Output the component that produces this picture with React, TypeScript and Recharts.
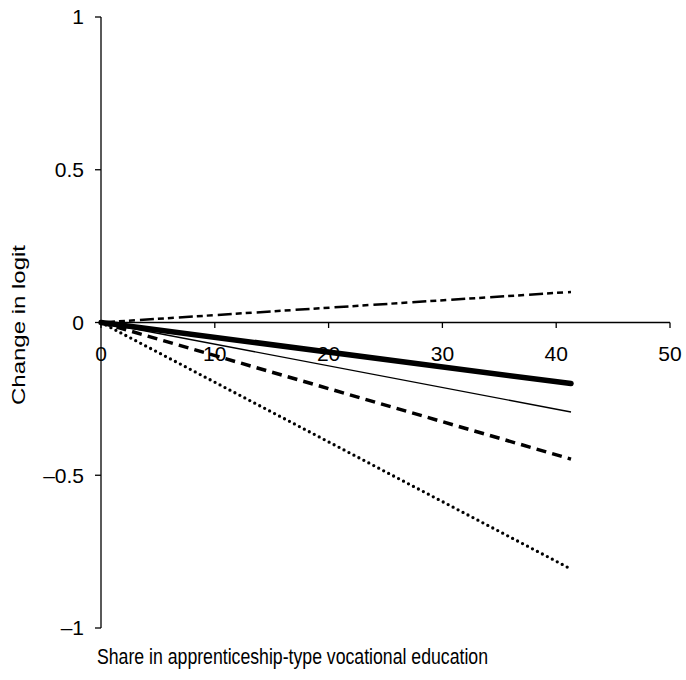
import React from 'react';
import { LineChart, Line, XAxis, YAxis, ReferenceLine, ReferenceDot, Label } from 'recharts';

const xValues = [0, 41.3];
const dashDotSeries = [0, 0.1];
const thickSeries = [0, -0.2];
const thinSeries = [0, -0.293];
const dashedSeries = [0, -0.447];
const dottedSeries = [0, -0.807];
const xTicks = [0, 10, 20, 30, 40, 50];
const yTicks = [-1, -0.5, 0, 0.5, 1];
const xLabel = 'Share in apprenticeship-type vocational education';
const yLabel = 'Change in logit';

const data = xValues.map((x, i) => ({
  x,
  dashDot: dashDotSeries[i],
  thick: thickSeries[i],
  thin: thinSeries[i],
  dashed: dashedSeries[i],
  dotted: dottedSeries[i],
}));

const FONT = '"Liberation Sans", Arial, sans-serif';
const fmtY = (v: number) => (v < 0 ? '\u2013' + Math.abs(v) : String(v));

const XLabelContent = (props: any) => {
  const vb = props.viewBox || {};
  const cx = vb.x + vb.width / 2 - 93;
  const y = vb.y + vb.height - 16;
  return (
    <text
      x={cx}
      y={y}
      textAnchor="middle"
      fontSize={22}
      fontFamily={FONT}
      fill="#000"
      textLength={391}
      lengthAdjust="spacingAndGlyphs"
    >
      {xLabel}
    </text>
  );
};

const YLabelContent = (props: any) => {
  const vb = props.viewBox || {};
  const cx = vb.x + 25;
  const cy = vb.y + vb.height / 2 + 2.5;
  return (
    <text
      x={cx}
      y={cy}
      transform={`rotate(-90, ${cx}, ${cy})`}
      textAnchor="middle"
      fontSize={18}
      fontFamily={FONT}
      fill="#000"
      textLength={160}
      lengthAdjust="spacingAndGlyphs"
    >
      {yLabel}
    </text>
  );
};

export default function App() {
  return (
    <div style={{ position: 'absolute', left: 0, top: 0, background: '#fff' }}>
      <LineChart
        width={686}
        height={680}
        data={data}
        margin={{ top: 17, right: 16, left: 0, bottom: 0 }}
        style={{ fontFamily: FONT }}
      >
        <XAxis
          dataKey="x"
          type="number"
          domain={[0, 50]}
          ticks={xTicks}
          axisLine={false}
          tickLine={false}
          tick={false}
          height={52}
        >
          <Label content={XLabelContent} />
        </XAxis>
        <YAxis
          type="number"
          domain={[-1, 1]}
          ticks={yTicks}
          width={101}
          tickFormatter={fmtY}
          tickSize={6}
          tickMargin={11}
          axisLine={{ stroke: '#000', strokeWidth: 1.3 }}
          tickLine={{ stroke: '#000', strokeWidth: 1.3 }}
          tick={{ fill: '#000', fontSize: 21, fontFamily: FONT }}
        >
          <Label content={YLabelContent} />
        </YAxis>
        <ReferenceLine y={0} stroke="#000" strokeWidth={1.3} />
        {xTicks.map((t) => (
          <ReferenceLine
            key={'tl' + t}
            segment={[
              { x: t, y: 0 },
              { x: t, y: -0.018 },
            ]}
            stroke="#000"
            strokeWidth={1.3}
          />
        ))}
        {xTicks.map((t) => (
          <ReferenceDot
            key={'td' + t}
            x={t}
            y={0}
            r={0}
            fill="none"
            stroke="none"
            label={{
              value: String(t),
              position: 'bottom',
              offset: 24,
              style: { fontSize: 21, fill: '#000', fontFamily: FONT },
            }}
          />
        ))}
        <Line
          dataKey="dashDot"
          stroke="#000"
          strokeWidth={2.5}
          strokeDasharray="14 4 6 4 6 5"
          dot={false}
          isAnimationActive={false}
          type="linear"
        />
        <Line
          dataKey="thin"
          stroke="#000"
          strokeWidth={1.3}
          dot={false}
          isAnimationActive={false}
          type="linear"
        />
        <Line
          dataKey="thick"
          stroke="#000"
          strokeWidth={5.5}
          strokeLinecap="round"
          dot={false}
          isAnimationActive={false}
          type="linear"
        />
        <Line
          dataKey="dashed"
          stroke="#000"
          strokeWidth={3.5}
          strokeDasharray="10 6.2"
          dot={false}
          isAnimationActive={false}
          type="linear"
        />
        <Line
          dataKey="dotted"
          stroke="#000"
          strokeWidth={3.3}
          strokeLinecap="round"
          strokeDasharray="0 5.6"
          dot={false}
          isAnimationActive={false}
          type="linear"
        />
      </LineChart>
    </div>
  );
}
